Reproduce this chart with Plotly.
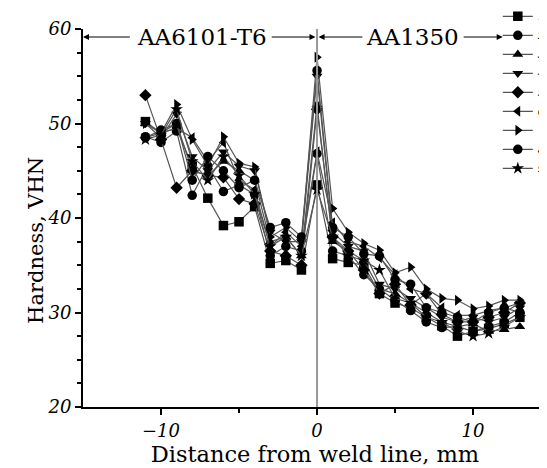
import plotly.graph_objects as go

# distance from weld line (mm)
distance = [-11, -10, -9, -8, -7, -6, -5, -4, -3, -2, -1, 0,
            1, 2, 3, 4, 5, 6, 7, 8, 9, 10, 11, 12, 13]

series_names = ["1", "2", "3", "4", "5", "6", "7", "8", "9"]

h1 = [50.2, 49.0, 49.5, 45.5, 42.1, 39.2, 39.6, 41.2, 35.2, 35.5, 34.5, 43.5,
      35.7, 35.3, 35.0, 32.0, 31.0, 30.5, 29.5, 28.6, 27.5, 28.0, 28.3, 28.8, 29.5]
h2 = [48.6, 48.0, 49.2, 42.4, 45.5, 42.8, 43.5, 42.5, 36.0, 37.0, 36.5, 46.8,
      36.5, 36.0, 34.0, 32.5, 31.3, 30.2, 29.0, 28.4, 28.5, 28.0, 28.5, 29.0, 30.0]
h3 = [50.0, 49.0, 50.0, 45.0, 44.5, 46.0, 45.0, 44.0, 37.5, 38.0, 36.0, 52.0,
      37.5, 36.5, 35.5, 32.5, 32.0, 31.0, 30.0, 29.0, 28.5, 28.8, 28.0, 28.2, 28.5]
h4 = [50.0, 48.5, 51.0, 46.5, 45.0, 47.0, 45.5, 45.0, 38.5, 37.5, 37.5, 55.0,
      38.5, 37.0, 36.5, 33.0, 32.5, 31.5, 30.5, 29.5, 29.0, 29.5, 29.0, 29.5, 30.5]
h5 = [53.0, 48.3, 43.2, 45.0, 44.5, 44.3, 42.0, 41.5, 36.5, 36.0, 35.0, 51.5,
      38.0, 36.5, 34.5, 32.0, 33.0, 30.8, 32.0, 29.8, 29.0, 29.0, 29.5, 30.0, 31.0]
h6 = [48.5, 49.0, 49.5, 48.5, 46.0, 48.0, 44.0, 43.0, 37.0, 38.5, 37.0, 47.0,
      39.5, 37.5, 37.0, 35.8, 34.0, 32.5, 32.0, 30.5, 29.7, 29.7, 30.2, 30.5, 31.0]
h7 = [50.0, 49.0, 52.0, 48.3, 45.5, 48.6, 45.8, 45.4, 38.0, 39.0, 37.5, 57.0,
      41.0, 38.5, 37.3, 36.6, 34.2, 34.8, 32.5, 31.5, 31.3, 30.4, 30.7, 31.3, 31.3]
h8 = [48.5, 49.3, 50.0, 44.0, 46.5, 45.0, 43.2, 44.0, 39.0, 39.5, 38.0, 55.6,
      39.0, 38.0, 36.2, 36.0, 33.5, 33.0, 30.5, 30.0, 29.5, 29.0, 30.0, 30.5, 30.0]
h9 = [48.3, 48.8, 51.5, 46.0, 44.0, 46.5, 44.5, 42.5, 37.0, 38.0, 36.0, 43.0,
      38.0, 36.0, 35.5, 34.5, 31.5, 31.0, 29.5, 29.0, 28.0, 27.5, 27.8, 28.5, 29.5]

hardness = [h1, h2, h3, h4, h5, h6, h7, h8, h9]
symbols = ["square", "circle", "triangle-up", "triangle-down", "diamond",
           "triangle-left", "triangle-right", "circle", "star"]

SERIF = "DejaVu Serif"

fig = go.Figure()

for name, vals, sym in zip(series_names, hardness, symbols):
    fig.add_trace(go.Scatter(
        x=distance, y=vals, name=name, mode="lines+markers",
        line=dict(color="#555555", width=1.2),
        marker=dict(symbol=sym, size=9.5, color="black"),
    ))

# weld line
fig.add_shape(type="line", x0=0, x1=0, y0=0, y1=1, xref="x", yref="paper",
              line=dict(color="#999999", width=2))

# region labels with arrows
arrow_y = 59.15
fig.add_annotation(x=-7.4, y=arrow_y, text="AA6101-T6", showarrow=False,
                   font=dict(family=SERIF, size=23, color="black"))
fig.add_annotation(x=6.1, y=arrow_y, text="AA1350", showarrow=False,
                   font=dict(family=SERIF, size=23, color="black"))
for tail, head in [(-11.9, -15), (-3.0, -0.1), (3.0, 0.1), (9.3, 11.9)]:
    fig.add_annotation(x=head, y=arrow_y, ax=tail, ay=arrow_y, axref="x", ayref="y",
                       text="", showarrow=True, arrowhead=2, arrowsize=1.2,
                       arrowwidth=1, arrowcolor="black")

# y-axis title (sits a little below the axis middle in the original)
fig.add_annotation(x=-0.103, y=0.44, xref="paper", yref="paper", text="Hardness, VHN",
                   textangle=-90, showarrow=False, xanchor="center", yanchor="middle",
                   font=dict(family=SERIF, size=21, color="black"))

fig.update_layout(
    width=539, height=460,
    margin=dict(l=75, r=0, t=21, b=61, autoexpand=False),
    plot_bgcolor="white", paper_bgcolor="white",
    font=dict(family=SERIF, size=18, color="black"),
    legend=dict(x=0.894, y=1.072, xanchor="left", yanchor="top",
                bgcolor="rgba(0,0,0,0)", font=dict(size=10, style="italic"),
                tracegroupgap=0, itemwidth=30),
)

fig.update_xaxes(
    range=[-15, 14.74], showline=True, linecolor="black", linewidth=2,
    showgrid=False, zeroline=False, ticks="outside", tickcolor="black",
    ticklen=6, tickwidth=2, tickvals=[-10, 0, 10],
    tickfont=dict(size=18, style="italic"),
    minor=dict(tickvals=[-5, 5], ticks="outside", ticklen=4, tickcolor="black", tickwidth=2),
    title=dict(text="Distance from weld line, mm", font=dict(size=22.5), standoff=4),
)
fig.update_yaxes(
    range=[20, 60], showline=True, linecolor="black", linewidth=2,
    showgrid=False, zeroline=False, ticks="outside", tickcolor="black",
    ticklen=6, tickwidth=2, dtick=10,
    tickfont=dict(size=18, style="italic"),
    minor=dict(dtick=2.5, ticks="outside", ticklen=4, tickcolor="black", tickwidth=2),
)

fig.write_html("out.html")
